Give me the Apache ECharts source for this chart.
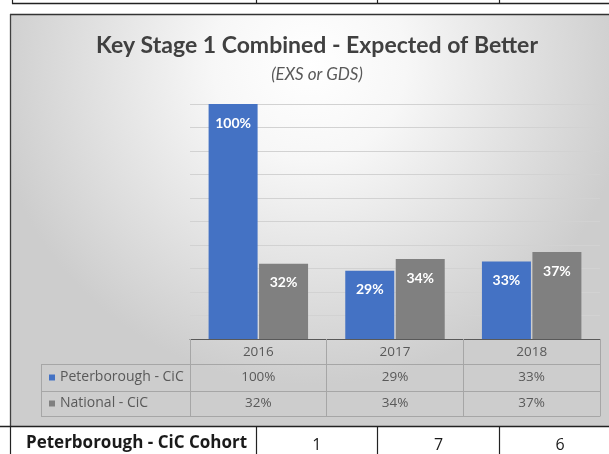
<!DOCTYPE html>
<html>
<head>
<meta charset="utf-8">
<script src="https://cdn.jsdelivr.net/npm/echarts@6/dist/echarts.min.js"></script>
<style>
html,body{margin:0;padding:0;background:#ffffff;overflow:hidden;}
#main{width:609px;height:454px;}
</style>
</head>
<body>
<div id="main"></div>
<script>
// ---- data ----
const categories = ['2016', '2017', '2018'];
const peterborough = [100, 29, 33];
const national = [32, 34, 37];
const seriesNames = ['Peterborough - CiC', 'National - CiC'];
const titleText = 'Key Stage 1 Combined - Expected of Better';
const subtitleText = '(EXS or GDS)';
const cohortLabel = 'Peterborough - CiC Cohort';
const cohort = [1, 7, 6];
const yMin = 0, yMax = 100, yInterval = 10;

const FONT_T = 'Lato';
const FONT = 'Open Sans';
const pct = v => v + '%';

const chart = echarts.init(document.getElementById('main'), null, {renderer: 'canvas'});

const bgGradient = new echarts.graphic.RadialGradient(0.5, 0.12, 0.78, [
  {offset: 0, color: '#ffffff'},
  {offset: 0.3, color: '#f7f7f7'},
  {offset: 1, color: '#cdcdcd'}
]);

const tableText = {fontFamily: FONT, fontSize: 13.5, color: '#595959'};
const lineEl = (x1, y1, x2, y2, stroke, lw) => ({type: 'line', z: 50, silent: true,
  shape: {x1, y1, x2, y2}, style: {stroke, lineWidth: lw}});

const option = {
  backgroundColor: '#ffffff',
  animation: false,
  title: [
    {text: titleText, left: 312, top: 29, textAlign: 'center',
     textStyle: {fontFamily: FONT_T, fontWeight: 'bold', fontSize: 23, color: '#404040'}},
    {text: subtitleText, left: 312, top: 61, textAlign: 'center',
     textStyle: {fontFamily: FONT_T, fontStyle: 'italic', fontWeight: 'normal', fontSize: 17, color: '#595959'}}
  ],
  legend: {
    data: seriesNames, orient: 'vertical', left: 49, top: 369.5, padding: 0,
    itemWidth: 6, itemHeight: 6, icon: 'rect', itemGap: 10, selectedMode: false,
    textStyle: {fontFamily: FONT, fontSize: 14, color: '#595959', lineHeight: 16}
  },
  grid: [
    {left: 190, width: 410, top: 104, height: 235, outerBoundsMode: 'none', containLabel: false},
    {left: 256, width: 365, top: 427, height: 27, outerBoundsMode: 'none', containLabel: false},
    {left: 256, width: 365, top: -20, height: 23, outerBoundsMode: 'none', containLabel: false}
  ],
  xAxis: [
    {type: 'category', gridIndex: 0, data: categories, position: 'bottom',
     axisLine: {show: true, lineStyle: {color: '#595959', width: 1}},
     axisTick: {show: true, interval: 0, length: 77, lineStyle: {color: '#a6a6a6'}},
     axisLabel: Object.assign({show: true, interval: 0, margin: 13, verticalAlign: 'middle'}, tableText),
     splitLine: {show: false}},
    {type: 'category', gridIndex: 0, data: peterborough.map(pct), position: 'bottom', offset: 25,
     axisLine: {show: true, lineStyle: {color: '#a6a6a6'}}, axisTick: {show: false},
     axisLabel: Object.assign({show: true, interval: 0, margin: 13.5, verticalAlign: 'middle'}, tableText)},
    {type: 'category', gridIndex: 0, data: national.map(pct), position: 'bottom', offset: 52,
     axisLine: {show: true, lineStyle: {color: '#a6a6a6'}}, axisTick: {show: false},
     axisLabel: Object.assign({show: true, interval: 0, margin: 12.5, verticalAlign: 'middle'}, tableText)},
    {type: 'category', gridIndex: 0, data: categories, position: 'bottom', offset: 77,
     axisLine: {show: true, lineStyle: {color: '#a6a6a6'}}, axisTick: {show: false},
     axisLabel: {show: false}},
    {type: 'category', gridIndex: 1, data: cohort.map(String), position: 'top',
     axisLine: {show: false}, axisTick: {show: false},
     axisLabel: {show: true, inside: true, interval: 0, margin: 18, verticalAlign: 'middle',
       fontFamily: FONT, fontSize: 16, color: '#1a1a1a'},
     splitLine: {show: true, interval: 0, lineStyle: {color: '#222222', width: 1.2}}},
    {type: 'category', gridIndex: 2, data: cohort.map(() => ''), position: 'bottom',
     axisLine: {show: false}, axisTick: {show: false}, axisLabel: {show: false},
     splitLine: {show: true, interval: 0, lineStyle: {color: '#222222', width: 1.2}}}
  ],
  yAxis: [
    {type: 'value', gridIndex: 0, min: yMin, max: yMax, interval: yInterval,
     axisLine: {show: false}, axisTick: {show: false}, axisLabel: {show: false},
     splitLine: {show: true, lineStyle: {color: '#d2d2d2', width: 1}}},
    {type: 'value', gridIndex: 1, show: false},
    {type: 'value', gridIndex: 2, show: false}
  ],
  series: [
    {name: seriesNames[0], type: 'bar', xAxisIndex: 0, yAxisIndex: 0, data: peterborough,
     barWidth: 49, barGap: '3%', itemStyle: {color: '#4472C4'},
     label: {show: true, position: 'insideTop', distance: 12, formatter: p => pct(p.value),
       fontFamily: FONT_T, fontWeight: 'bold', fontSize: 14, color: '#ffffff'}},
    {name: seriesNames[1], type: 'bar', xAxisIndex: 0, yAxisIndex: 0, data: national,
     barWidth: 49, barGap: '3%', itemStyle: {color: '#808080'},
     label: {show: true, position: 'insideTop', distance: 12, formatter: p => pct(p.value),
       fontFamily: FONT_T, fontWeight: 'bold', fontSize: 14, color: '#ffffff'}}
  ],
  graphic: {
    elements: [
      {type: 'rect', z: -100, silent: true,
       shape: {x: 10, y: 14, width: 599, height: 412},
       style: {fill: bgGradient}},
      lineEl(10, 14.5, 609, 14.5, '#333333', 1.5),
      lineEl(10.5, 14, 10.5, 426, '#404040', 1.3),
      lineEl(0, 426.5, 609, 426.5, '#222222', 1.5),
      lineEl(10.5, 426, 10.5, 454, '#222222', 1.2),
      // legend column borders
      lineEl(41.5, 364, 41.5, 417, '#a6a6a6', 1),
      lineEl(41, 364.5, 190, 364.5, '#a6a6a6', 1),
      lineEl(41, 391.5, 190, 391.5, '#a6a6a6', 1),
      lineEl(41, 416.5, 190, 416.5, '#a6a6a6', 1),
      // top cropped table
      lineEl(12, 3.5, 609, 3.5, '#222222', 1.3),
      lineEl(12.5, 0, 12.5, 4, '#222222', 1.2),
      // cohort label
      {type: 'text', z: 50, silent: true, left: 26, top: 435,
       style: {text: cohortLabel, fontFamily: FONT, fontWeight: 'bold', fontSize: 17, fill: '#1a1a1a'}}
    ]
  }
};
chart.setOption(option);
</script>
</body>
</html>
